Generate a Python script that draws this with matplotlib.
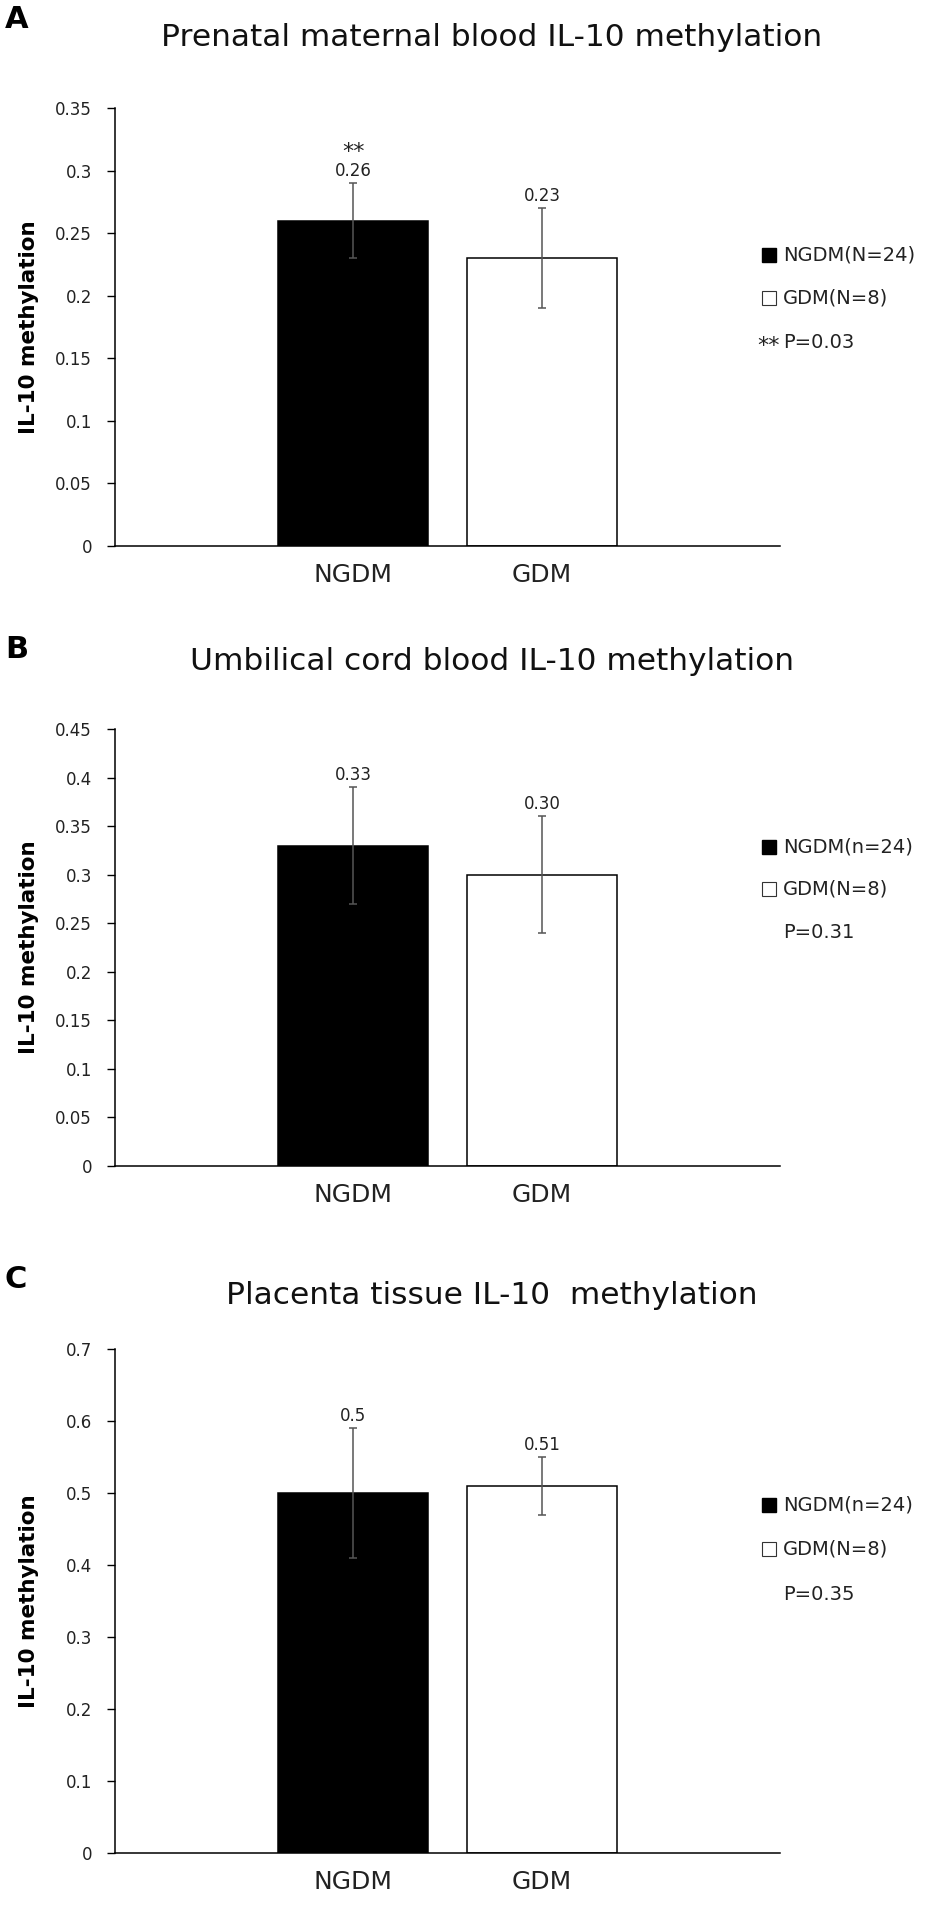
import matplotlib.pyplot as plt
from matplotlib.lines import Line2D

W, H = 933, 1925

groups = ['NGDM', 'GDM']
tags = ['A', 'B', 'C']
titles = ['Prenatal maternal blood IL-10 methylation',
          'Umbilical cord blood IL-10 methylation',
          'Placenta tissue IL-10  methylation']

means_a = [0.26, 0.23]
errs_a = [0.03, 0.04]
labels_a = ['0.26', '0.23']
yticks_a = [0, 0.05, 0.1, 0.15, 0.2, 0.25, 0.3, 0.35]
legend_a = ['NGDM(N=24)', 'GDM(N=8)', 'P=0.03']

means_b = [0.33, 0.30]
errs_b = [0.06, 0.06]
labels_b = ['0.33', '0.30']
yticks_b = [0, 0.05, 0.1, 0.15, 0.2, 0.25, 0.3, 0.35, 0.4, 0.45]
legend_b = ['NGDM(n=24)', 'GDM(N=8)', 'P=0.31']

means_c = [0.50, 0.51]
errs_c = [0.09, 0.04]
labels_c = ['0.5', '0.51']
yticks_c = [0, 0.1, 0.2, 0.3, 0.4, 0.5, 0.6, 0.7]
legend_c = ['NGDM(n=24)', 'GDM(N=8)', 'P=0.35']

# pixel layout: axes top, axes bottom, title y, tag y, legend rows y
layout = [
    (108, 546, 38, 20, [255, 298, 343]),
    (729, 1166, 662, 650, [847, 889, 932]),
    (1349, 1853, 1296, 1280, [1505, 1549, 1595]),
]
panels = [
    (means_a, errs_a, labels_a, yticks_a, legend_a, True),
    (means_b, errs_b, labels_b, yticks_b, legend_b, False),
    (means_c, errs_c, labels_c, yticks_c, legend_c, False),
]

fig = plt.figure(figsize=(W / 100, H / 100), dpi=100)
ax_left, ax_right = 115, 780


def fx(px):
    return px / W


def fy(py):
    return 1 - py / H


for i in range(3):
    means, errs, labels, yticks, legend, star = panels[i]
    top, bottom, ty, tagy, rows = layout[i]
    ax = fig.add_axes([fx(ax_left), fy(bottom), (ax_right - ax_left) / W, (bottom - top) / H])
    x = [0, 1]
    ax.bar(x, means, width=0.79, color=['black', 'white'], edgecolor='black', linewidth=1.1, zorder=2)
    ax.errorbar(x, means, yerr=errs, fmt='none', ecolor='#555555', elinewidth=1.1,
                capsize=3, capthick=1.1, zorder=3)
    for xi, m, e, lab in zip(x, means, errs, labels):
        ax.annotate(lab, (xi, m + e), xytext=(0, 5), textcoords='offset points',
                    ha='center', va='baseline', fontsize=12, color='#222222')
        if star and xi == 0:
            ax.annotate('**', (xi, m + e), xytext=(0, 18), textcoords='offset points',
                        ha='center', va='baseline', fontsize=16, color='#222222')
    ax.set_xlim(-1.26, 2.26)
    ax.set_ylim(0, yticks[-1])
    ax.set_yticks(yticks)
    ax.set_yticklabels(['{:g}'.format(t) for t in yticks])
    ax.set_xticks(x)
    ax.set_xticklabels(groups)
    ax.tick_params(axis='x', length=0, labelsize=18, pad=12, labelcolor='#222222')
    ax.tick_params(axis='y', direction='out', length=5.5, width=1, labelsize=12, pad=11,
                   labelcolor='#222222')
    for s in ['top', 'right']:
        ax.spines[s].set_visible(False)
    for s in ['left', 'bottom']:
        ax.spines[s].set_linewidth(1.1)
    ax.set_ylabel('IL-10 methylation', fontsize=15.5, fontweight='bold')
    ax.yaxis.set_label_coords((39 - ax_left) / (ax_right - ax_left), 0.5)

    fig.text(fx(492), fy(ty), titles[i], ha='center', va='center', fontsize=22.5, color='#111111')
    fig.text(fx(5), fy(tagy), tags[i], ha='left', va='center', fontsize=22, fontweight='bold',
             family=['Liberation Sans Narrow', 'DejaVu Sans'])

    # legend
    fig.add_artist(Line2D([fx(769)], [fy(rows[0])], marker='s', markersize=10.5,
                          color='black', transform=fig.transFigure))
    fig.add_artist(Line2D([fx(769)], [fy(rows[1])], marker='s', markersize=10.5,
                          markerfacecolor='white', markeredgecolor='#333333',
                          markeredgewidth=0.8, transform=fig.transFigure))
    for j in range(3):
        fig.text(fx(783), fy(rows[j]), legend[j], ha='left', va='center', fontsize=14,
                 color='#222222')
    if star:
        fig.text(fx(780), fy(rows[2] + 3), '**', ha='right', va='center', fontsize=16,
                 color='#222222')

fig.savefig('out.png', dpi=100)
